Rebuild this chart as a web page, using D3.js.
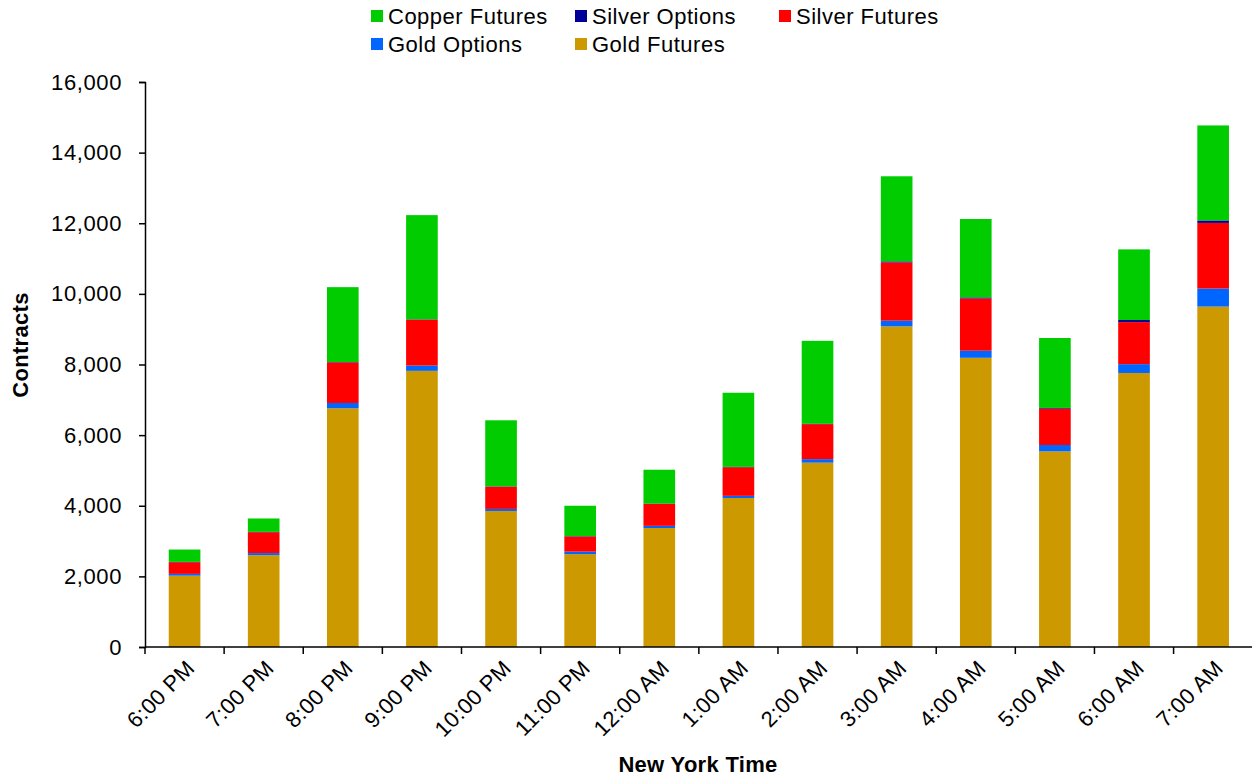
<!DOCTYPE html>
<html>
<head>
<meta charset="utf-8">
<script src="https://cdn.jsdelivr.net/npm/d3@7"></script>
<style>
  body { margin: 0; background: #fff; }
  svg { display: block; font-family: "Liberation Sans", Arial, sans-serif; }
</style>
</head>
<body>
<svg id="chart" width="1252" height="780"></svg>
<script>
// Hourly contract volume by product, New York time
const hours = ["6:00 PM", "7:00 PM", "8:00 PM", "9:00 PM", "10:00 PM", "11:00 PM", "12:00 AM",
               "1:00 AM", "2:00 AM", "3:00 AM", "4:00 AM", "5:00 AM", "6:00 AM", "7:00 AM"];
const goldFutures   = [2020, 2600, 6760, 7820, 3850, 2630, 3370, 4220, 5220, 9080, 8190, 5540, 7760, 9640];
const goldOptions   = [50, 60, 150, 150, 60, 70, 60, 60, 100, 160, 200, 180, 250, 510];
const silverFutures = [330, 590, 1150, 1300, 630, 430, 620, 810, 990, 1650, 1480, 1030, 1190, 1860];
const silverOptions = [10, 10, 10, 10, 10, 10, 10, 10, 10, 30, 30, 20, 60, 70];
const copperFutures = [350, 380, 2120, 2950, 1870, 860, 960, 2100, 2350, 2410, 2220, 1980, 2000, 2690];
const yTicks = [0, 2000, 4000, 6000, 8000, 10000, 12000, 14000, 16000];

// Stack order from the bottom up
const seriesNames = ["Gold Futures", "Gold Options", "Silver Futures", "Silver Options", "Copper Futures"];
const seriesValues = [goldFutures, goldOptions, silverFutures, silverOptions, copperFutures];
const colors = {
  "Gold Futures": "#CC9900",
  "Gold Options": "#0066FF",
  "Silver Futures": "#FF0000",
  "Silver Options": "#000099",
  "Copper Futures": "#00CC00"
};

const rows = hours.map((h, i) => {
  const r = { hour: h };
  seriesNames.forEach((s, k) => { r[s] = seriesValues[k][i]; });
  return r;
});

const FONT = "'Liberation Sans', Arial, sans-serif";
const svg = d3.select("#chart");
const x = d3.scaleBand().domain(hours).range([145, 1252.7]).paddingInner(0.6).paddingOuter(0.3);
const y = d3.scaleLinear().domain([0, 16000]).range([647, 82]);

const stacked = d3.stack().keys(seriesNames)(rows);

svg.append("g")
  .selectAll("g")
  .data(stacked)
  .join("g")
  .attr("fill", d => colors[d.key])
  .selectAll("rect")
  .data(d => d)
  .join("rect")
  .attr("x", d => x(d.data.hour))
  .attr("width", x.bandwidth())
  .attr("y", d => y(d[1]))
  .attr("height", d => y(d[0]) - y(d[1]));

// Y axis
const yAxis = svg.append("g")
  .attr("transform", "translate(145,0)")
  .call(d3.axisLeft(y).tickValues(yTicks).tickSize(6).tickPadding(17).tickFormat(d3.format(",")));
yAxis.select(".domain").attr("stroke", "#000").attr("stroke-width", 1.5);
yAxis.selectAll(".tick line").attr("stroke", "#000").attr("stroke-width", 1.5);
yAxis.selectAll(".tick text")
  .attr("font-size", 22)
  .attr("fill", "#000")
  .style("font-family", FONT)
  .style("letter-spacing", "0.6px");

// X axis: ticks sit on category boundaries
const step = x.step();
const x0 = x.range()[0];
const boundaries = d3.range(hours.length + 1).map(i => x0 + i * step);
const xAxis = svg.append("g");
xAxis.append("line")
  .attr("x1", x0).attr("x2", 1252).attr("y1", 647).attr("y2", 647)
  .attr("stroke", "#000").attr("stroke-width", 1.5);
xAxis.selectAll("line.tick")
  .data(boundaries.filter(b => b < 1252))
  .join("line")
  .attr("class", "tick")
  .attr("x1", d => d).attr("x2", d => d)
  .attr("y1", 647).attr("y2", 654)
  .attr("stroke", "#000").attr("stroke-width", 1.5);
xAxis.selectAll("text")
  .data(hours)
  .join("text")
  .attr("transform", d => `translate(${x(d) + x.bandwidth() / 2 + 6},${664}) rotate(-45)`)
  .attr("text-anchor", "end")
  .attr("dy", "0.35em")
  .attr("font-size", 22)
  .style("letter-spacing", "0.4px")
  .attr("fill", "#000")
  .text(d => d);

// Axis titles
svg.append("text")
  .attr("transform", "translate(28,345) rotate(-90)")
  .attr("text-anchor", "middle")
  .attr("font-size", 22)
  .attr("font-weight", "bold")
  .style("letter-spacing", "0.3px")
  .text("Contracts");
svg.append("text")
  .attr("x", 698).attr("y", 772)
  .attr("text-anchor", "middle")
  .attr("font-size", 22)
  .attr("font-weight", "bold")
  .style("letter-spacing", "0.3px")
  .text("New York Time");

// Legend
const legendItems = [
  { name: "Copper Futures", x: 371, y: 16 },
  { name: "Silver Options", x: 575, y: 16 },
  { name: "Silver Futures", x: 779, y: 16 },
  { name: "Gold Options", x: 371, y: 44 },
  { name: "Gold Futures", x: 575, y: 44 }
];
const legend = svg.append("g").selectAll("g").data(legendItems).join("g")
  .attr("transform", d => `translate(${d.x},${d.y})`);
legend.append("rect")
  .attr("x", 0).attr("y", -6).attr("width", 12).attr("height", 12)
  .attr("fill", d => colors[d.name]);
legend.append("text")
  .attr("x", 17).attr("y", 0).attr("dy", "0.35em")
  .attr("font-size", 22)
  .style("letter-spacing", "0.5px")
  .attr("fill", "#000")
  .text(d => d.name);
</script>
</body>
</html>
